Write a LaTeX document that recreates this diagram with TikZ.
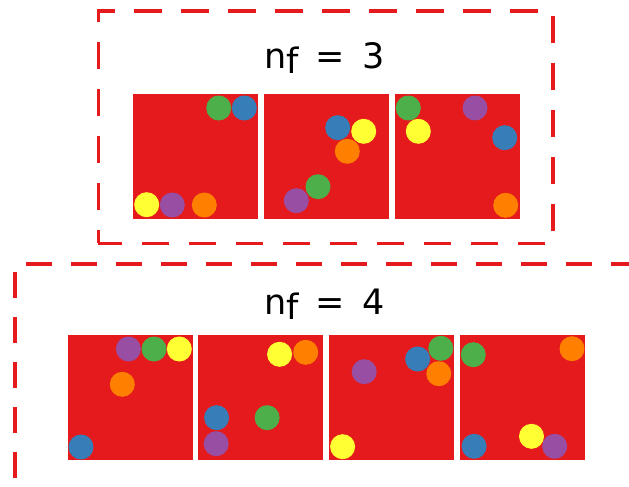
\documentclass[tikz,border=0pt]{standalone}
\usepackage{fontspec}
\setmainfont{DejaVu Sans}
\definecolor{cred}{HTML}{E41A1C}
\definecolor{cblue}{HTML}{377EB8}
\definecolor{cgreen}{HTML}{4DAF4A}
\definecolor{cpurple}{HTML}{984EA3}
\definecolor{corange}{HTML}{FF7F00}
\definecolor{cyellow}{HTML}{FFFF33}
\tikzset{
  panel/.style={fill=cred},
  groupbox/.style={draw=cred, line width=3.6pt, line cap=butt, line join=miter},
  lbl/.style={anchor=base west, inner sep=0pt, font=\fontsize{35}{40}\selectfont},
  bl/.style={fill=cblue}, gr/.style={fill=cgreen}, pu/.style={fill=cpurple},
  orr/.style={fill=corange}, ye/.style={fill=cyellow}
}
\newcommand{\nflabel}[1]{n\raisebox{-5pt}{f}\hspace{17pt}=\hspace{17pt}#1}
\begin{document}
\begin{tikzpicture}[x=1pt,y=-1pt]
\useasboundingbox (0,0) rectangle (629,487);
\clip (0,0) rectangle (629,487);
% top group
\draw[groupbox, dash pattern=on 27.3pt off 19.7pt, dash phase=13.7pt]
  (98.3,243.3) -- (98.3,11) -- (552.7,11) -- (552.7,243.3) -- cycle;
\node[lbl] (t3) at (264,69) {\nflabel{3}};
\foreach \x/\n in {133/a,264/b,395/c}
  \fill[panel] (\x,94) rectangle ++(125,125);
% top panel 1
\fill[bl] (244.3,108) circle (12.5pt);
\fill[gr] (218.7,108) circle (12.5pt);
\fill[pu] (172.3,205) circle (12.5pt);
\fill[orr] (204.3,205) circle (12.5pt);
\fill[ye] (146.7,204.7) circle (12.5pt);
% top panel 2
\fill[bl] (337.7,127.7) circle (12.5pt);
\fill[gr] (318,186.7) circle (12.5pt);
\fill[pu] (296.3,200.7) circle (12.5pt);
\fill[orr] (347.3,151.3) circle (12.5pt);
\fill[ye] (363.7,131.3) circle (12.5pt);
% top panel 3
\fill[bl] (504.7,137.7) circle (12.5pt);
\fill[gr] (408.3,108) circle (12.5pt);
\fill[pu] (475,108) circle (12.5pt);
\fill[orr] (505.7,205.3) circle (12.5pt);
\fill[ye] (418.3,131.3) circle (12.5pt);
% bottom group
\draw[groupbox, dash pattern=on 26.3pt off 18.7pt]
  (15,523) -- (15,264) -- (700,264);
\node[lbl] (t4) at (264,314) {\nflabel{4}};
\foreach \x in {68,198,329,460}
  \fill[panel] (\x,335) rectangle ++(125,125);
% bottom panel 1
\fill[bl] (81,447) circle (12.5pt);
\fill[gr] (154,349) circle (12.5pt);
\fill[pu] (128.4,349) circle (12.5pt);
\fill[orr] (122.3,384.3) circle (12.5pt);
\fill[ye] (179.3,349) circle (12.5pt);
% bottom panel 2
\fill[bl] (216.6,417.7) circle (12.5pt);
\fill[gr] (267.1,417.7) circle (12.5pt);
\fill[pu] (216.2,443.7) circle (12.5pt);
\fill[orr] (305.7,352.3) circle (12.5pt);
\fill[ye] (279.6,354.3) circle (12.5pt);
% bottom panel 3
\fill[bl] (417.6,359) circle (12.5pt);
\fill[gr] (440.8,348.3) circle (12.5pt);
\fill[pu] (364.2,371.7) circle (12.5pt);
\fill[orr] (438.8,373.7) circle (12.5pt);
\fill[ye] (342.6,446.7) circle (12.5pt);
% bottom panel 4
\fill[bl] (474.1,446.3) circle (12.5pt);
\fill[gr] (473.3,354.7) circle (12.5pt);
\fill[pu] (554.7,446.3) circle (12.5pt);
\fill[orr] (572,348.7) circle (12.5pt);
\fill[ye] (531.5,436.3) circle (12.5pt);
\end{tikzpicture}
\end{document}
